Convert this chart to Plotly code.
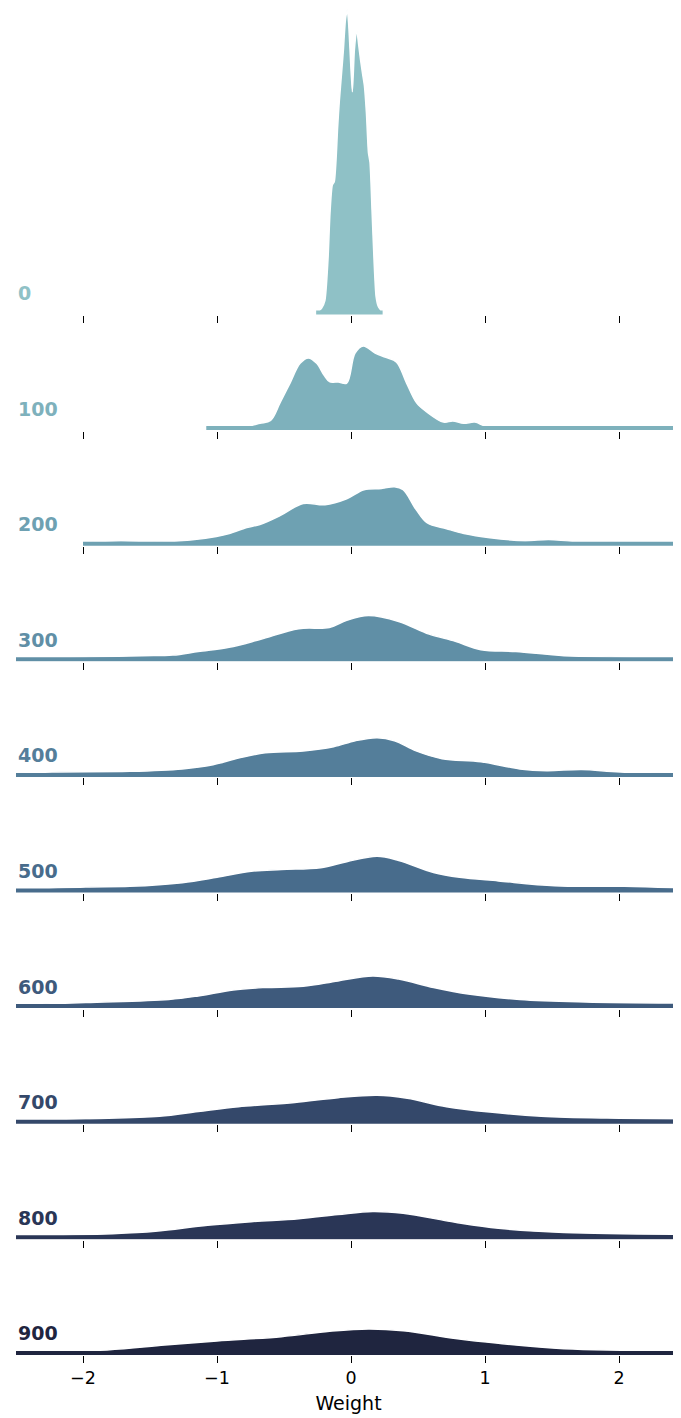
import numpy as np
import plotly.graph_objects as go
from plotly.subplots import make_subplots

# training steps (one ridge per step)
steps = [0, 100, 200, 300, 400, 500, 600, 700, 800, 900]

# weight values and KDE density, one pair per step
x_0 = [-0.26, -0.22, -0.195, -0.172, -0.157, -0.14, -0.125, -0.112, -0.1, -0.087, -0.07, -0.057,
       -0.042, -0.028, -0.018, -0.007, 0.01, 0.025, 0.042, 0.057, 0.072, 0.087, 0.1, 0.115,
       0.13, 0.142, 0.157, 0.172, 0.187, 0.204, 0.236]
dens_0 = [0, 0.07, 0.2, 0.87, 1.65, 2.12, 2.18, 2.53, 3.08, 3.53, 4.0, 4.37,
          4.87, 5.05, 4.83, 4.37, 3.68, 4.37, 4.72, 4.47, 4.2, 3.97, 3.78, 3.33,
          2.67, 2.5, 1.7, 0.87, 0.27, 0.1, 0]

x_100 = [-1.08, -0.95, -0.8, -0.68, -0.6, -0.53, -0.455, -0.38, -0.318, -0.256, -0.2, -0.157,
         -0.095, -0.032, 0.03, 0.092, 0.18, 0.26, 0.34, 0.415, 0.49, 0.565, 0.69, 0.76,
         0.84, 0.925, 1.01, 1.26, 1.6, 2.0, 2.6]
dens_100 = [0.01, 0.01, 0.02, 0.08, 0.13, 0.42, 0.75, 1.08, 1.17, 1.08, 0.88, 0.77,
            0.77, 0.75, 1.25, 1.37, 1.25, 1.18, 1.1, 0.75, 0.42, 0.27, 0.1, 0.12,
            0.08, 0.1, 0.03, 0.02, 0.01, 0.01, 0.01]

x_200 = [-2.0, -1.72, -1.43, -1.2, -1.005, -0.908, -0.778, -0.68, -0.519, -0.357, -0.194, -0.032,
         0.097, 0.227, 0.324, 0.389, 0.486, 0.567, 0.713, 0.843, 1.037, 1.297, 1.475, 1.653,
         1.977, 2.6]
dens_200 = [0.02, 0.05, 0.03, 0.06, 0.12, 0.17, 0.27, 0.32, 0.48, 0.67, 0.65, 0.75,
            0.9, 0.92, 0.95, 0.9, 0.57, 0.35, 0.25, 0.17, 0.1, 0.05, 0.07, 0.04,
            0.03, 0.03]

x_300 = [-2.5, -1.98, -1.56, -1.33, -1.14, -0.91, -0.68, -0.39, -0.162, -0.032, 0.13, 0.356,
         0.583, 0.778, 0.97, 1.23, 1.59, 1.98, 2.6]
dens_300 = [0.02, 0.04, 0.06, 0.07, 0.13, 0.2, 0.33, 0.51, 0.53, 0.65, 0.73, 0.63,
            0.42, 0.3, 0.16, 0.13, 0.06, 0.04, 0.02]

x_400 = [-2.5, -2.23, -1.65, -1.26, -1.03, -0.84, -0.64, -0.357, -0.13, 0.032, 0.195, 0.324,
         0.486, 0.68, 0.97, 1.26, 1.46, 1.72, 2.01, 2.6]
dens_400 = [0.03, 0.05, 0.06, 0.1, 0.17, 0.28, 0.37, 0.4, 0.47, 0.57, 0.62, 0.57,
            0.4, 0.27, 0.22, 0.1, 0.07, 0.09, 0.05, 0.03]

x_500 = [-2.5, -1.98, -1.65, -1.26, -1.0, -0.745, -0.519, -0.227, -0.032, 0.195, 0.356, 0.616,
         0.81, 1.1, 1.52, 2.04, 2.6]
dens_500 = [0.02, 0.06, 0.07, 0.13, 0.22, 0.32, 0.35, 0.38, 0.48, 0.57, 0.5, 0.3,
            0.22, 0.16, 0.08, 0.07, 0.03]

x_600 = [-2.5, -1.98, -1.36, -1.14, -0.88, -0.64, -0.357, -0.097, 0.162, 0.356, 0.616, 0.875,
         1.26, 1.75, 2.6]
dens_600 = [0.02, 0.06, 0.11, 0.17, 0.27, 0.31, 0.33, 0.42, 0.5, 0.45, 0.31, 0.2,
            0.11, 0.07, 0.05]

x_700 = [-2.5, -1.98, -1.43, -1.14, -0.84, -0.42, -0.097, 0.195, 0.42, 0.713, 1.037, 1.42,
         1.91, 2.6]
dens_700 = [0.02, 0.05, 0.09, 0.17, 0.25, 0.32, 0.4, 0.44, 0.39, 0.25, 0.16, 0.09,
            0.06, 0.05]

x_800 = [-2.5, -1.78, -1.46, -1.07, -0.745, -0.39, -0.097, 0.162, 0.389, 0.778, 1.1, 1.59, 2.6]
dens_800 = [0.02, 0.06, 0.1, 0.2, 0.26, 0.31, 0.38, 0.43, 0.4, 0.25, 0.15, 0.08, 0.05]

x_900 = [-2.5, -1.82, -1.39, -1.0, -0.52, -0.16, 0.13, 0.39, 0.78, 1.1, 1.59, 2.6]
dens_900 = [0.02, 0.05, 0.13, 0.2, 0.27, 0.36, 0.4, 0.37, 0.24, 0.16, 0.07, 0.04]

weights = [x_0, x_100, x_200, x_300, x_400, x_500, x_600, x_700, x_800, x_900]
densities = [dens_0, dens_100, dens_200, dens_300, dens_400,
             dens_500, dens_600, dens_700, dens_800, dens_900]

tick_vals = [-2, -1, 0, 1, 2]


# seaborn-style cubehelix palette (rot=-.25, light=.7)
def cubehelix(n, start=0.0, rot=-0.25, hue=0.8, light=0.7, dark=0.15):
    t = np.linspace(light, dark, n)
    phi = 2 * np.pi * (start / 3 + rot * t)
    a = hue * t * (1 - t) / 2
    r = t + a * (-0.14861 * np.cos(phi) + 1.78277 * np.sin(phi))
    g = t + a * (-0.29227 * np.cos(phi) - 0.90649 * np.sin(phi))
    b = t + a * (1.97294 * np.cos(phi))
    rgb = np.clip(np.stack([r, g, b], axis=1), 0, 1) * 255
    return ["rgb(%d,%d,%d)" % tuple(np.round(c)) for c in rgb]


colors = cubehelix(len(steps))

# layout geometry (pixels, figure sits 8px inside the page)
W, H = 673, 1410
ML, MB = 8, 62
PPU = 60          # pixels per density unit, shared by all rows
UNIT_PX = 134     # pixels per weight unit
BASE0, STEP = 304.5, 115.6
PAD = 2.5
plot_h = H - MB

n = len(steps)
fig = make_subplots(rows=n, cols=1)

for i, (step, xs, ds, col) in enumerate(zip(steps, weights, densities, colors)):
    r = i + 1
    fig.add_trace(go.Scatter(
        x=xs, y=ds, mode="lines", fill="tozeroy", fillcolor=col,
        line=dict(color="white", width=1.5, shape="spline",
                  smoothing=0.6 if i == 0 else 1.0),
        hoverinfo="skip"), row=r, col=1)
    fig.add_trace(go.Scatter(
        x=[xs[0], xs[-1]], y=[0, 0], mode="lines",
        line=dict(color=col, width=4), hoverinfo="skip"), row=r, col=1)

    base = BASE0 + i * STEP
    bottom = base + PAD
    top = 0 if i == 0 else BASE0 + (i - 1) * STEP + PAD
    dom = [max(0.0, (plot_h - bottom) / plot_h), (plot_h - top) / plot_h]

    fig.update_yaxes(domain=dom, range=[-PAD / PPU, (bottom - top - PAD) / PPU],
                     showgrid=False, zeroline=False, showticklabels=False,
                     ticks="", showline=False, row=r, col=1)
    fig.update_xaxes(range=[-2.5, -2.5 + (W - ML) / UNIT_PX], tickvals=tick_vals,
                     ticks="outside", ticklen=7, tickwidth=1.3, tickcolor="black",
                     showgrid=False, zeroline=False, showline=False,
                     showticklabels=(i == n - 1), row=r, col=1)

    sfx = "" if r == 1 else str(r)
    fig.add_annotation(text=str(step), x=0, xref=f"x{sfx} domain",
                       y=19.5 / PPU, yref=f"y{sfx}", xanchor="left", yanchor="middle",
                       showarrow=False,
                       font=dict(family="DejaVu Sans", size=19, color=col, weight="bold"))

fig.update_xaxes(title_text="Weight", title_font=dict(size=19, color="black"),
                 title_standoff=9, tickfont=dict(size=17.5, color="black"),
                 row=n, col=1)

fig.update_layout(
    width=W, height=H,
    margin=dict(l=ML, r=0, t=0, b=MB),
    showlegend=False,
    plot_bgcolor="white", paper_bgcolor="white",
    font=dict(family="DejaVu Sans", color="black"),
)

fig.write_html("out.html")
